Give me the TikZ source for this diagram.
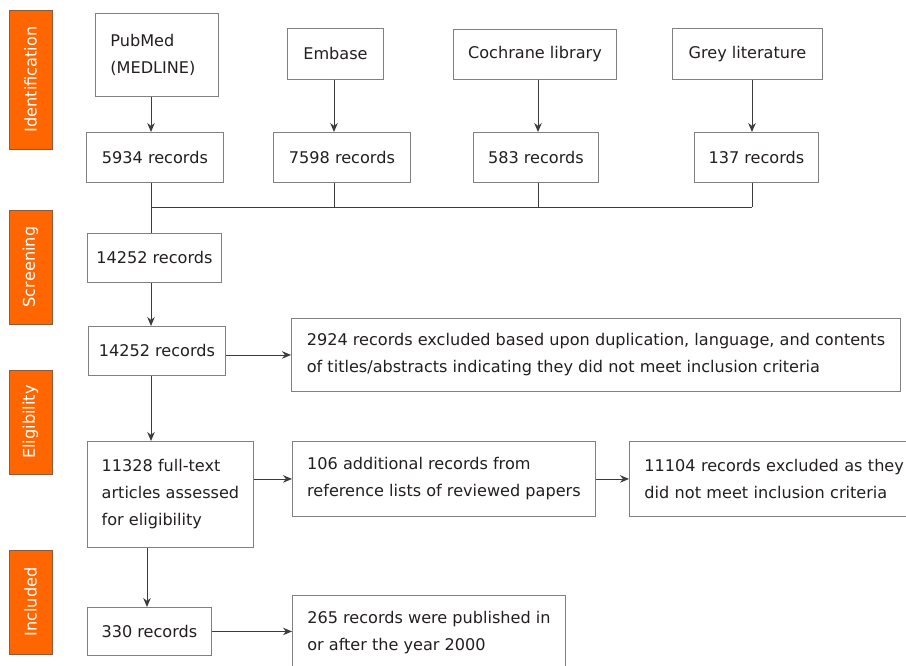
\documentclass[tikz,border=0pt]{standalone}
\usepackage{fontspec}
\setmainfont{DejaVu Sans}
\usetikzlibrary{arrows.meta}
\definecolor{boxgray}{HTML}{808080}
\definecolor{linegray}{HTML}{3C3C3C}
\definecolor{txt}{HTML}{231F20}
\definecolor{orng}{HTML}{FF6600}
\definecolor{orngborder}{HTML}{8C5A3C}
\tikzset{
  box/.style={draw=boxgray, line width=0.9pt, fill=white, inner sep=0pt,
    font=\fontsize{16.1}{27}\selectfont, text=txt, anchor=north west, align=left},
  bar/.style={draw=orngborder, line width=0.8pt, fill=orng, inner sep=0pt,
    rotate=90, minimum height=43pt, text=white, font=\fontsize{16.2}{19}\selectfont},
  conn/.style={draw=linegray, line width=0.9pt},
  arr/.style={conn, -{Stealth[length=9pt,width=7.5pt]}}
}
\begin{document}
\begin{tikzpicture}[x=1pt,y=-1pt]
\useasboundingbox (0,0) rectangle (906,666);
\fill[white] (0,0) rectangle (906,666);

% stage bars
\node[bar, minimum width=139pt] (lid) at (30.5,79.5) {Identification};
\node[bar, minimum width=114pt] (lsc) at (30.5,267) {Screening};
\node[bar, minimum width=104pt] (lel) at (30.5,422) {Eligibility};
\node[bar, minimum width=104pt] (lin) at (30.5,602) {Included};

% sources
\node[box, text width=93pt, inner xsep=15pt, minimum height=83pt] (pub) at (95,13) {PubMed\\(MEDLINE)};
\node[box, minimum width=96pt, minimum height=51pt] (emb) at (287,28) {Embase};
\node[box, minimum width=163pt, minimum height=50pt] (coch) at (453,29) {Cochrane library};
\node[box, minimum width=150pt, minimum height=51pt] (grey) at (672,28) {Grey literature};

% records
\node[box, minimum width=137pt, minimum height=50pt] (p1) at (86,132) {5934 records};
\node[box, minimum width=137pt, minimum height=50pt] (e1) at (273,132) {7598 records};
\node[box, minimum width=125pt, minimum height=50pt] (c1) at (473,132) {583 records};
\node[box, minimum width=124pt, minimum height=50pt] (g1) at (694,132) {137 records};

\node[box, minimum width=134pt, minimum height=49pt] (s1) at (87,233) {14252 records};
\node[box, minimum width=137pt, minimum height=49pt] (s2) at (88,326) {14252 records};
\node[box, minimum width=609pt, minimum height=73pt] (ex) at (291,318)
  {2924 records excluded based upon duplication, language, and contents\\of titles/abstracts indicating they did not meet inclusion criteria};

\node[box, minimum width=166pt, minimum height=106pt] (ft) at (87,441)
  {11328 full-text\\articles assessed\\for eligibility};
\node[box, minimum width=303pt, minimum height=75pt] (add) at (292,441)
  {106 additional records from\\reference lists of reviewed papers};
\node[box, text width=280pt, inner xsep=15pt, minimum height=75pt] (exc) at (629,441)
  {11104 records excluded as they\\did not meet inclusion criteria};

\node[box, minimum width=124pt, minimum height=48pt] (inc) at (87,607) {330 records};
\node[box, minimum width=273pt, minimum height=75pt] (yr) at (292,595)
  {265 records were published in\\or after the year 2000};

% junction coordinates
\coordinate (j1) at (151,207);
\coordinate (j2) at (334,207);
\coordinate (j3) at (538,207);
\coordinate (j4) at (752,207);
\coordinate (k1) at (147,560);

% connectors
\draw[arr] (pub.south -| j1) -- (p1.north -| j1);
\draw[arr] (emb.south -| j2) -- (e1.north -| j2);
\draw[arr] (coch.south -| j3) -- (c1.north -| j3);
\draw[arr] (grey.south -| j4) -- (g1.north -| j4);
\draw[conn] (p1.south -| j1) -- (j1);
\draw[conn] (e1.south -| j2) -- (j2);
\draw[conn] (c1.south -| j3) -- (j3);
\draw[conn] (g1.south -| j4) -- (j4);
\draw[conn] (j1) -- (j4);
\draw[conn] (j1) -- (s1.north -| j1);
\draw[arr] (s1.south -| j1) -- (s2.north -| j1);
\draw[arr] (ex.west -| s2.east) -- (ex.west);
\draw[arr] (s2.south -| j1) -- (ft.north -| j1);
\draw[arr] (add.west -| ft.east) -- (add.west);
\draw[arr] (add.east) -- (exc.west |- add.east);
\draw[arr] (ft.south -| k1) -- (inc.north -| k1);
\draw[arr] (inc.east) -- (inc.east -| yr.west);
\end{tikzpicture}
\end{document}
